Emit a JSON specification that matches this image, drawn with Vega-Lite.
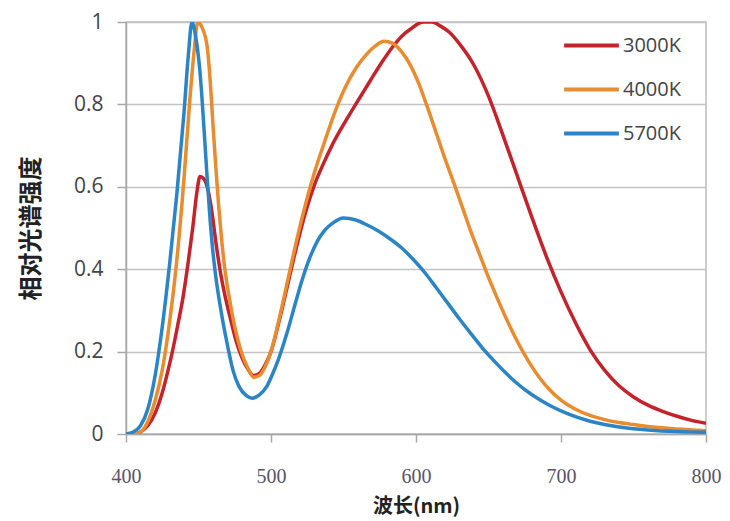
{
  "$schema": "https://vega.github.io/schema/vega-lite/v6.json",
  "width": 580,
  "height": 412,
  "autosize": "none",
  "padding": {"left": 126, "top": 22, "right": 24, "bottom": 87},
  "background": "white",
  "config": {
    "view": {"stroke": "#bdbdbd", "strokeWidth": 1.5},
    "axis": {"domainColor": "#a8a8a8", "tickColor": "#a8a8a8", "gridColor": "#c4c4c4", "gridWidth": 1.5, "domainWidth": 1.5, "tickWidth": 1.5}
  },
  "data": {"values": [
    {"wl":400,"v":0,"s":"3000K"},{"wl":405,"v":0,"s":"3000K"},{"wl":410,"v":0.005,"s":"3000K"},{"wl":415,"v":0.02,"s":"3000K"},{"wl":420,"v":0.05,"s":"3000K"},{"wl":425,"v":0.1,"s":"3000K"},{"wl":428,"v":0.14,"s":"3000K"},{"wl":432,"v":0.2,"s":"3000K"},{"wl":436,"v":0.27,"s":"3000K"},{"wl":439,"v":0.325,"s":"3000K"},{"wl":443,"v":0.42,"s":"3000K"},{"wl":446,"v":0.5,"s":"3000K"},{"wl":449,"v":0.59,"s":"3000K"},{"wl":451,"v":0.625,"s":"3000K"},{"wl":453,"v":0.622,"s":"3000K"},{"wl":456,"v":0.6,"s":"3000K"},{"wl":459,"v":0.545,"s":"3000K"},{"wl":462,"v":0.465,"s":"3000K"},{"wl":465,"v":0.395,"s":"3000K"},{"wl":468,"v":0.34,"s":"3000K"},{"wl":472,"v":0.28,"s":"3000K"},{"wl":476,"v":0.225,"s":"3000K"},{"wl":480,"v":0.185,"s":"3000K"},{"wl":484,"v":0.158,"s":"3000K"},{"wl":488,"v":0.142,"s":"3000K"},{"wl":492,"v":0.147,"s":"3000K"},{"wl":496,"v":0.168,"s":"3000K"},{"wl":500,"v":0.2,"s":"3000K"},{"wl":506,"v":0.28,"s":"3000K"},{"wl":512,"v":0.37,"s":"3000K"},{"wl":518,"v":0.46,"s":"3000K"},{"wl":524,"v":0.54,"s":"3000K"},{"wl":530,"v":0.605,"s":"3000K"},{"wl":536,"v":0.655,"s":"3000K"},{"wl":542,"v":0.7,"s":"3000K"},{"wl":549,"v":0.745,"s":"3000K"},{"wl":557,"v":0.792,"s":"3000K"},{"wl":568,"v":0.855,"s":"3000K"},{"wl":576,"v":0.9,"s":"3000K"},{"wl":584,"v":0.94,"s":"3000K"},{"wl":590,"v":0.965,"s":"3000K"},{"wl":597,"v":0.985,"s":"3000K"},{"wl":605,"v":1.0,"s":"3000K"},{"wl":611,"v":1.0,"s":"3000K"},{"wl":617,"v":0.99,"s":"3000K"},{"wl":623,"v":0.975,"s":"3000K"},{"wl":630,"v":0.947,"s":"3000K"},{"wl":640,"v":0.895,"s":"3000K"},{"wl":650,"v":0.82,"s":"3000K"},{"wl":660,"v":0.725,"s":"3000K"},{"wl":670,"v":0.625,"s":"3000K"},{"wl":680,"v":0.525,"s":"3000K"},{"wl":690,"v":0.43,"s":"3000K"},{"wl":700,"v":0.345,"s":"3000K"},{"wl":710,"v":0.27,"s":"3000K"},{"wl":720,"v":0.205,"s":"3000K"},{"wl":730,"v":0.155,"s":"3000K"},{"wl":740,"v":0.117,"s":"3000K"},{"wl":750,"v":0.09,"s":"3000K"},{"wl":760,"v":0.07,"s":"3000K"},{"wl":770,"v":0.055,"s":"3000K"},{"wl":780,"v":0.043,"s":"3000K"},{"wl":790,"v":0.033,"s":"3000K"},{"wl":800,"v":0.026,"s":"3000K"},

    {"wl":400,"v":0,"s":"4000K"},{"wl":405,"v":0,"s":"4000K"},{"wl":410,"v":0.005,"s":"4000K"},{"wl":415,"v":0.03,"s":"4000K"},{"wl":420,"v":0.08,"s":"4000K"},{"wl":425,"v":0.155,"s":"4000K"},{"wl":430,"v":0.27,"s":"4000K"},{"wl":435,"v":0.42,"s":"4000K"},{"wl":440,"v":0.62,"s":"4000K"},{"wl":444,"v":0.81,"s":"4000K"},{"wl":447,"v":0.93,"s":"4000K"},{"wl":449.5,"v":1.0,"s":"4000K"},{"wl":452,"v":0.99,"s":"4000K"},{"wl":456,"v":0.94,"s":"4000K"},{"wl":458,"v":0.86,"s":"4000K"},{"wl":460,"v":0.75,"s":"4000K"},{"wl":462,"v":0.645,"s":"4000K"},{"wl":464,"v":0.55,"s":"4000K"},{"wl":466,"v":0.47,"s":"4000K"},{"wl":468,"v":0.405,"s":"4000K"},{"wl":471,"v":0.335,"s":"4000K"},{"wl":475,"v":0.26,"s":"4000K"},{"wl":479,"v":0.205,"s":"4000K"},{"wl":484,"v":0.16,"s":"4000K"},{"wl":488,"v":0.138,"s":"4000K"},{"wl":492,"v":0.142,"s":"4000K"},{"wl":496,"v":0.163,"s":"4000K"},{"wl":500,"v":0.2,"s":"4000K"},{"wl":506,"v":0.285,"s":"4000K"},{"wl":512,"v":0.38,"s":"4000K"},{"wl":518,"v":0.475,"s":"4000K"},{"wl":524,"v":0.56,"s":"4000K"},{"wl":530,"v":0.635,"s":"4000K"},{"wl":537,"v":0.71,"s":"4000K"},{"wl":545,"v":0.79,"s":"4000K"},{"wl":552,"v":0.847,"s":"4000K"},{"wl":559,"v":0.89,"s":"4000K"},{"wl":566,"v":0.922,"s":"4000K"},{"wl":572,"v":0.942,"s":"4000K"},{"wl":578,"v":0.953,"s":"4000K"},{"wl":584,"v":0.948,"s":"4000K"},{"wl":590,"v":0.928,"s":"4000K"},{"wl":596,"v":0.896,"s":"4000K"},{"wl":602,"v":0.85,"s":"4000K"},{"wl":608,"v":0.792,"s":"4000K"},{"wl":614,"v":0.73,"s":"4000K"},{"wl":620,"v":0.668,"s":"4000K"},{"wl":626,"v":0.61,"s":"4000K"},{"wl":632,"v":0.55,"s":"4000K"},{"wl":638,"v":0.49,"s":"4000K"},{"wl":644,"v":0.435,"s":"4000K"},{"wl":650,"v":0.38,"s":"4000K"},{"wl":656,"v":0.33,"s":"4000K"},{"wl":662,"v":0.282,"s":"4000K"},{"wl":668,"v":0.238,"s":"4000K"},{"wl":674,"v":0.198,"s":"4000K"},{"wl":680,"v":0.163,"s":"4000K"},{"wl":686,"v":0.133,"s":"4000K"},{"wl":692,"v":0.108,"s":"4000K"},{"wl":700,"v":0.082,"s":"4000K"},{"wl":710,"v":0.06,"s":"4000K"},{"wl":720,"v":0.045,"s":"4000K"},{"wl":730,"v":0.035,"s":"4000K"},{"wl":740,"v":0.028,"s":"4000K"},{"wl":750,"v":0.023,"s":"4000K"},{"wl":760,"v":0.018,"s":"4000K"},{"wl":780,"v":0.012,"s":"4000K"},{"wl":800,"v":0.008,"s":"4000K"},

    {"wl":400,"v":0,"s":"5700K"},{"wl":405,"v":0.005,"s":"5700K"},{"wl":410,"v":0.02,"s":"5700K"},{"wl":415,"v":0.06,"s":"5700K"},{"wl":420,"v":0.14,"s":"5700K"},{"wl":425,"v":0.26,"s":"5700K"},{"wl":430,"v":0.41,"s":"5700K"},{"wl":435,"v":0.58,"s":"5700K"},{"wl":440,"v":0.78,"s":"5700K"},{"wl":443,"v":0.92,"s":"5700K"},{"wl":445.5,"v":1.0,"s":"5700K"},{"wl":448,"v":0.965,"s":"5700K"},{"wl":451,"v":0.88,"s":"5700K"},{"wl":454,"v":0.73,"s":"5700K"},{"wl":456,"v":0.62,"s":"5700K"},{"wl":458,"v":0.52,"s":"5700K"},{"wl":460,"v":0.44,"s":"5700K"},{"wl":462,"v":0.38,"s":"5700K"},{"wl":465,"v":0.31,"s":"5700K"},{"wl":470,"v":0.215,"s":"5700K"},{"wl":474,"v":0.152,"s":"5700K"},{"wl":478,"v":0.115,"s":"5700K"},{"wl":483,"v":0.093,"s":"5700K"},{"wl":487,"v":0.087,"s":"5700K"},{"wl":492,"v":0.095,"s":"5700K"},{"wl":497,"v":0.115,"s":"5700K"},{"wl":501,"v":0.145,"s":"5700K"},{"wl":505,"v":0.18,"s":"5700K"},{"wl":511,"v":0.245,"s":"5700K"},{"wl":517,"v":0.32,"s":"5700K"},{"wl":522,"v":0.38,"s":"5700K"},{"wl":527,"v":0.43,"s":"5700K"},{"wl":532,"v":0.468,"s":"5700K"},{"wl":537,"v":0.494,"s":"5700K"},{"wl":543,"v":0.513,"s":"5700K"},{"wl":550,"v":0.524,"s":"5700K"},{"wl":558,"v":0.52,"s":"5700K"},{"wl":566,"v":0.508,"s":"5700K"},{"wl":574,"v":0.493,"s":"5700K"},{"wl":582,"v":0.474,"s":"5700K"},{"wl":590,"v":0.452,"s":"5700K"},{"wl":598,"v":0.424,"s":"5700K"},{"wl":606,"v":0.392,"s":"5700K"},{"wl":614,"v":0.355,"s":"5700K"},{"wl":622,"v":0.317,"s":"5700K"},{"wl":630,"v":0.279,"s":"5700K"},{"wl":638,"v":0.243,"s":"5700K"},{"wl":646,"v":0.208,"s":"5700K"},{"wl":654,"v":0.177,"s":"5700K"},{"wl":662,"v":0.148,"s":"5700K"},{"wl":670,"v":0.122,"s":"5700K"},{"wl":678,"v":0.1,"s":"5700K"},{"wl":686,"v":0.082,"s":"5700K"},{"wl":694,"v":0.066,"s":"5700K"},{"wl":702,"v":0.053,"s":"5700K"},{"wl":710,"v":0.042,"s":"5700K"},{"wl":720,"v":0.031,"s":"5700K"},{"wl":730,"v":0.023,"s":"5700K"},{"wl":740,"v":0.017,"s":"5700K"},{"wl":750,"v":0.013,"s":"5700K"},{"wl":760,"v":0.01,"s":"5700K"},{"wl":780,"v":0.006,"s":"5700K"},{"wl":800,"v":0.004,"s":"5700K"}
  ]},
  "mark": {"type": "line", "strokeWidth": 3.5, "interpolate": "monotone", "clip": true},
  "encoding": {
    "x": {"field": "wl", "type": "quantitative",
      "scale": {"domain": [400, 800], "nice": false, "zero": false},
      "axis": {"values": [400, 500, 600, 700, 800], "grid": false, "tickSize": 8, "labelPadding": 24, "labelFlush": false,
        "labelFont": "Liberation Serif", "labelFontSize": 20, "labelColor": "#5a5468",
        "title": "波长(nm)", "titleFont": "Noto Sans CJK SC", "titleFontSize": 20, "titleFontWeight": "bold", "titleColor": "#222", "titlePadding": 10}},
    "y": {"field": "v", "type": "quantitative",
      "scale": {"domain": [0, 1], "nice": false},
      "axis": {"values": [0, 0.2, 0.4, 0.6, 0.8, 1], "format": ".1~f", "tickSize": 9, "labelPadding": 14,
        "labelFont": "Open Sans", "labelFontSize": 21, "labelColor": "#444",
        "title": "相对光谱强度", "titleFont": "Noto Sans CJK SC", "titleFontSize": 24, "titleFontWeight": "bold", "titleColor": "#222", "titlePadding": 30}},
    "color": {"field": "s", "type": "nominal",
      "scale": {"domain": ["3000K", "4000K", "5700K"], "range": ["#C4232B", "#E98B2F", "#2B84C6"]},
      "legend": {"title": null, "orient": "none", "legendX": 436, "legendY": -6,
        "symbolType": "stroke", "symbolSize": 3000, "symbolStrokeWidth": 4, "rowPadding": 4,
        "labelFont": "Open Sans", "labelFontSize": 20, "labelColor": "#444", "labelOffset": 2}}
  }
}
